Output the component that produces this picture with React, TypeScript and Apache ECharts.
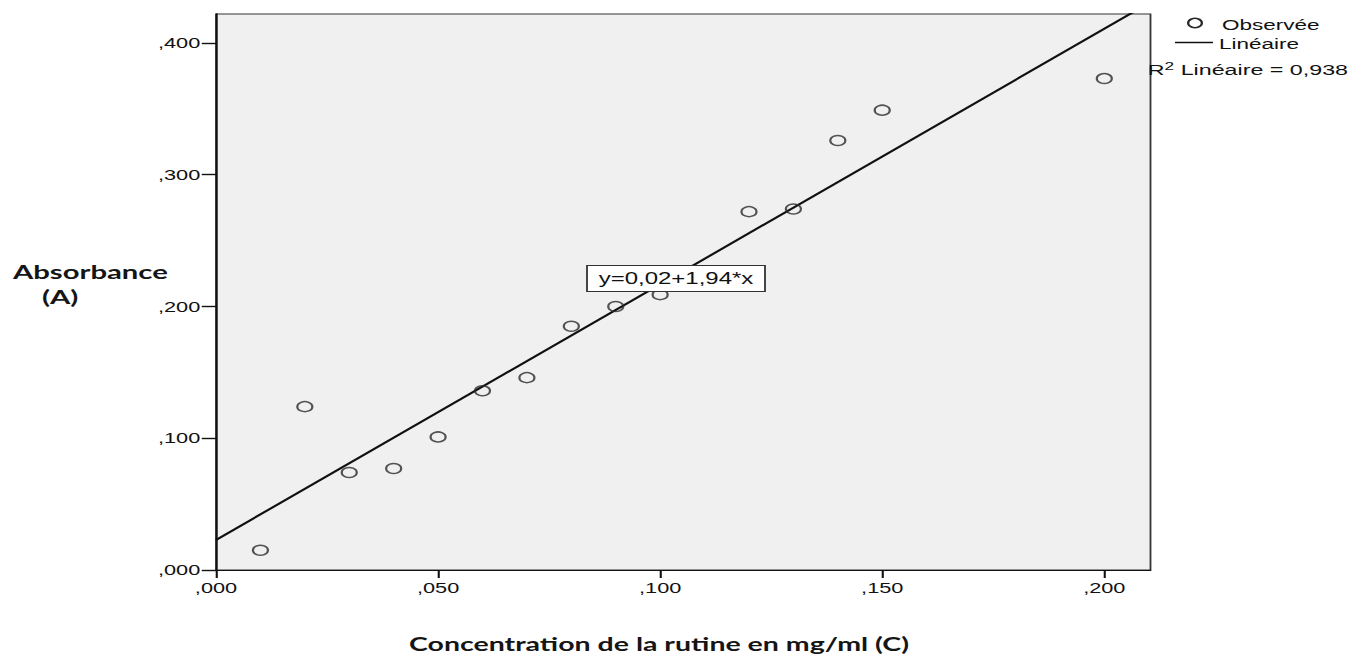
import React, { useEffect, useRef } from "react";
import * as echarts from "echarts";

// ---- data ----
const concentrations = [0.01, 0.02, 0.03, 0.04, 0.05, 0.06, 0.07, 0.08, 0.09, 0.1, 0.12, 0.13, 0.14, 0.15, 0.2];
const absorbances = [0.015, 0.124, 0.074, 0.077, 0.101, 0.136, 0.146, 0.185, 0.2, 0.209, 0.272, 0.274, 0.326, 0.349, 0.373];
const xTicks = [0, 0.05, 0.1, 0.15, 0.2];
const yTicks = [0, 0.1, 0.2, 0.3, 0.4];
const fitIntercept = 0.0228;
const fitSlope = 1.94;
const rSquared = "0,938";
const equationLabel = "y=0,02+1,94*x";
const xTitle = "Concentration de la rutine en mg/ml (C)";
const yTitle1 = "Absorbance";
const yTitle2 = "(A)";
const legendObserved = "Observée";
const legendLinear = "Linéaire";

const X_MAX = 0.2104;
const Y_MAX = 0.422;

const STRETCH = 1.5;
const W = 1351 / STRETCH;
const H = 656;

const fmt = (v: number) => {
  const s = v.toFixed(3);
  return s.startsWith("0") ? s.slice(1).replace(".", ",") : s.replace(".", ",");
};
const onGrid = (v: number, step: number) => Math.abs(v / step - Math.round(v / step)) < 1e-6;

export default function App() {
  const ref = useRef<HTMLDivElement>(null);
  useEffect(() => {
    if (!ref.current) return;
    const chart = echarts.init(ref.current, undefined, { renderer: "svg" });
    const labelFont = "'Liberation Sans', Arial, sans-serif";
    const titleFont = "Lato, 'Open Sans', sans-serif";
    const scatterData = concentrations.map((c, i) => [c, absorbances[i]]);
    const lineData = [
      [0, fitIntercept],
      [X_MAX, fitIntercept + fitSlope * X_MAX],
    ];
    chart.setOption({
      animation: false,
      backgroundColor: "#ffffff",
      grid: {
        left: 144,
        right: W - 1150 / STRETCH,
        top: 14,
        bottom: 86,
        show: true,
        backgroundColor: "#f0f0f0",
        borderColor: "#333",
        borderWidth: 1.2,
        containLabel: false,
        outerBoundsMode: "none",
      },
      xAxis: {
        type: "value",
        min: 0,
        max: X_MAX,
        interval: 0.05,
        axisLine: { show: true, onZero: false, lineStyle: { color: "#111", width: 1.2 } },
        axisTick: { show: true, length: 8, customValues: xTicks, lineStyle: { color: "#111", width: 1.4 } },
        axisLabel: {
          customValues: xTicks,
          margin: 10,
          fontFamily: labelFont,
          fontSize: 14.5,
          color: "#111",
          formatter: (v: number) => (onGrid(v, 0.05) ? fmt(v) : ""),
        },
        splitLine: { show: false },
      },
      yAxis: {
        type: "value",
        min: 0,
        max: Y_MAX,
        interval: 0.1,
        axisLine: { show: true, onZero: false, lineStyle: { color: "#111", width: 1.3 } },
        axisTick: { show: true, length: 9.5, customValues: yTicks, lineStyle: { color: "#111", width: 1.4 } },
        axisLabel: {
          customValues: yTicks,
          margin: 10.5,
          fontFamily: labelFont,
          fontSize: 14.5,
          color: "#111",
          formatter: (v: number) => (onGrid(v, 0.1) ? fmt(v) : ""),
        },
        splitLine: { show: false },
      },
      series: [
        {
          name: legendLinear,
          type: "line",
          data: lineData,
          showSymbol: false,
          symbol: "none",
          clip: true,
          lineStyle: { color: "#111", width: 1.9 },
          z: 2,
        },
        {
          name: legendObserved,
          type: "scatter",
          data: scatterData,
          symbol: "circle",
          symbolSize: 10,
          itemStyle: { color: "rgba(0,0,0,0)", borderColor: "#2a2a2a", borderWidth: 1.5 },
          z: 3,
        },
      ],
      graphic: [
        {
          type: "text",
          left: 13 / STRETCH,
          top: 261,
          style: { text: yTitle1, fontFamily: titleFont, fontWeight: 700, fontSize: 19.5, fill: "#151515" },
        },
        {
          type: "text",
          left: 42 / STRETCH,
          top: 286,
          style: { text: yTitle2, fontFamily: titleFont, fontWeight: 700, fontSize: 19.5, fill: "#151515" },
        },
        {
          type: "text",
          x: 909 / STRETCH,
          y: 644,
          style: {
            text: xTitle,
            fontFamily: titleFont,
            fontWeight: 700,
            fontSize: 19,
            fill: "#151515",
            align: "right",
            verticalAlign: "middle",
          },
        },
        {
          type: "rect",
          shape: { x: 587 / STRETCH, y: 265.5, width: (765 - 587) / STRETCH, height: 26 },
          style: { fill: "#ffffff", stroke: "#333", lineWidth: 1.2 },
          z: 10,
        },
        {
          type: "text",
          x: (587 + 765) / 2 / STRETCH,
          y: 279,
          style: {
            text: equationLabel,
            fontFamily: labelFont,
            fontSize: 16,
            fill: "#111",
            align: "center",
            verticalAlign: "middle",
          },
          z: 11,
        },
        {
          type: "circle",
          shape: { cx: 1195 / STRETCH, cy: 23, r: 4.6 },
          style: { fill: "none", stroke: "#2a2a2a", lineWidth: 1.5 },
        },
        {
          type: "text",
          x: 1222 / STRETCH,
          y: 25,
          style: { text: legendObserved, fontFamily: labelFont, fontSize: 15, fill: "#111", verticalAlign: "middle" },
        },
        {
          type: "line",
          shape: { x1: 1175 / STRETCH, y1: 42.5, x2: 1213 / STRETCH, y2: 42.5 },
          style: { stroke: "#111", lineWidth: 1.3 },
        },
        {
          type: "text",
          x: 1219 / STRETCH,
          y: 44,
          style: { text: legendLinear, fontFamily: labelFont, fontSize: 15, fill: "#111", verticalAlign: "middle" },
        },
        {
          type: "text",
          x: 1348 / STRETCH,
          y: 69,
          style: {
            text: "{r|R}{s|2}{r| " + legendLinear + " = " + rSquared + "}",
            align: "right",
            verticalAlign: "middle",
            rich: {
              r: { fontFamily: labelFont, fontSize: 15.5, fill: "#111", lineHeight: 18, verticalAlign: "bottom" },
              s: { fontFamily: labelFont, fontSize: 11.5, fill: "#111", lineHeight: 18, verticalAlign: "top" },
            },
          },
          z: 12,
        },
      ],
    });
    return () => chart.dispose();
  }, []);

  return (
    <div
      style={{
        position: "fixed",
        left: 0,
        top: 0,
        width: 1351,
        height: 656,
        overflow: "hidden",
        background: "#fff",
      }}
    >
      <div
        ref={ref}
        style={{
          width: W,
          height: H,
          transform: `scaleX(${STRETCH})`,
          transformOrigin: "0 0",
        }}
      />
    </div>
  );
}
